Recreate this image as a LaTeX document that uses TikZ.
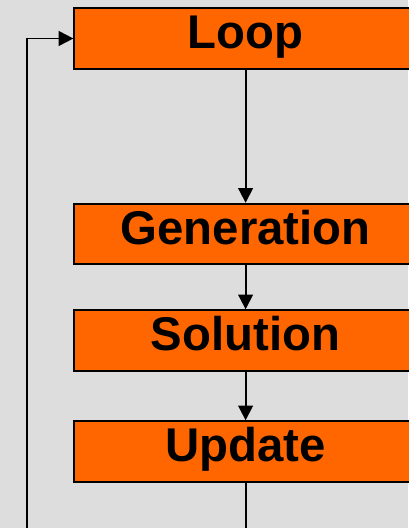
\documentclass[tikz,border=0pt]{standalone}
\usepackage{fontspec}
\setmainfont{Liberation Sans}
\usetikzlibrary{arrows.meta}
\definecolor{boxorange}{HTML}{FF6600}
\definecolor{backgray}{HTML}{DDDDDD}

\begin{document}
\begin{tikzpicture}[x=0.75pt,y=-0.75pt,
        stagebox/.style={draw=black,line width=1.3pt,fill=boxorange,minimum width=257pt,minimum height=45.5pt,inner sep=0pt,text height=24pt,text depth=8.5pt,font=\fontsize{35.5}{40}\selectfont\bfseries},
        flow/.style={line width=1.4pt,-{Triangle[length=11pt,width=11pt]}}]
        \fill[backgray] (0,0) rectangle (408,528);
        \useasboundingbox (0,0) rectangle (408,528);
        \node[stagebox] (loop) at (245.6,38.5) {Loop};
        \node[stagebox] (gen) at (245.6,234) {Generation};
        \node[stagebox] (sol) at (245.6,340.5) {Solution};
        \node[stagebox] (upd) at (245.6,451.5) {Update};
        \coordinate (down) at (245.6,540);
        \coordinate (back) at (27,540);
        \draw[flow] (loop) -- (gen);
        \draw[flow] (gen) -- (sol);
        \draw[flow] (sol) -- (upd);
        \draw[line width=1.4pt] (upd) -- (down);
        \draw[flow] (back) |- (loop.west);
    \end{tikzpicture}
\end{document}
